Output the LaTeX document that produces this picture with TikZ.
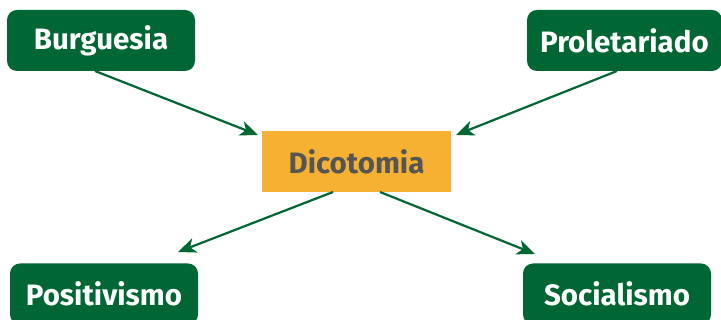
\documentclass[tikz,border=0pt]{standalone}
\usepackage{fontspec}
\setmainfont{Fira Sans}
\usetikzlibrary{arrows.meta}
\definecolor{dgreen}{RGB}{0,102,51}
\definecolor{dorange}{RGB}{247,177,50}
\definecolor{dgray}{RGB}{85,85,85}
\begin{document}
\begin{tikzpicture}[x=1pt,y=1pt,
  gbox/.style={fill=dgreen,text=white,rounded corners=10pt,minimum height=61pt,inner sep=0pt,font=\fontsize{29.5}{32}\selectfont\bfseries},
  obox/.style={fill=dorange,text=dgray,minimum height=61pt,minimum width=189pt,inner sep=0pt,font=\fontsize{29.5}{32}\selectfont\bfseries},
  conn/.style={draw=dgreen,line width=2.2pt,-{Stealth[length=18pt,width=15pt,inset=5pt]}}]
\useasboundingbox (0,0) rectangle (721,320);
\node[gbox,minimum width=188pt] (bur) at (101,279.5) {Burguesia};
\node[gbox,minimum width=195pt] (pro) at (624.5,279.5) {Proletariado};
\node[obox] (dic) at (356.5,158.5) {Dicotomia};
\node[gbox,minimum width=188pt] (pos) at (104,26) {Positivismo};
\node[gbox,minimum width=188pt] (soc) at (617,26) {Socialismo};
\coordinate (a1) at (95,249);
\coordinate (a2) at (617,249);
\coordinate (b1) at (258,185);
\coordinate (b2) at (456,185);
\coordinate (c1) at (333,128);
\coordinate (c2) at (380,128);
\coordinate (d1) at (178,68);
\coordinate (d2) at (535,66);
\draw[conn] (a1) -- (b1);
\draw[conn] (a2) -- (b2);
\draw[conn] (c1) -- (d1);
\draw[conn] (c2) -- (d2);
\end{tikzpicture}
\end{document}
